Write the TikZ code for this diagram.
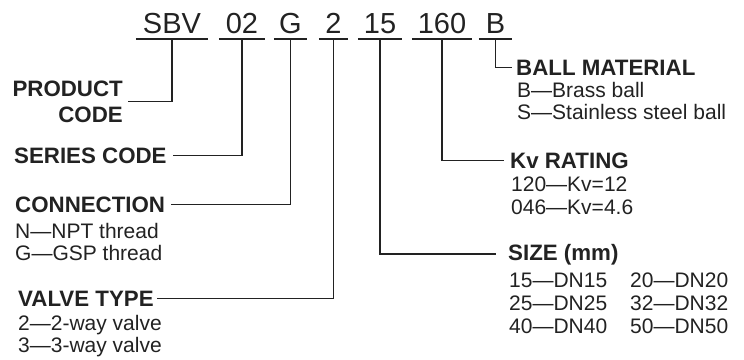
\documentclass[tikz,border=0pt]{standalone}
\usepackage{fontspec}
\setmainfont{Liberation Sans}
\usepackage{xcolor}
\usetikzlibrary{positioning}
\definecolor{ink}{HTML}{222222}
\tikzset{
  codetext/.style={inner xsep=0pt, inner ysep=6pt, text depth=0pt, anchor=base,
                   font=\fontsize{29}{29}\selectfont, text=ink},
  headtext/.style={inner sep=0pt, font=\fontsize{22.3}{26}\selectfont\bfseries, text=ink},
  itemtext/.style={inner sep=0pt, anchor=base west, font=\fontsize{21}{22}\selectfont, text=ink},
  leader/.style={draw=ink, line width=1.5pt},
}

\begin{document}
\begin{tikzpicture}[x=1pt, y=-1pt]
    \useasboundingbox (0,0) rectangle (744,359);
    % code row
    \node[codetext, minimum width=72] (sbv)  at (172,33)   {SBV};
    \node[codetext, minimum width=46] (ser)  at (242,33)   {02};
    \node[codetext, minimum width=33] (con)  at (290.5,33) {G};
    \node[codetext, minimum width=29] (typ)  at (333.5,33) {2};
    \node[codetext, minimum width=44] (siz)  at (380,33)   {15};
    \node[codetext, minimum width=60] (kvr)  at (442,33)   {160};
    \node[codetext, minimum width=33] (mat)  at (495.5,33) {B};
    \foreach \n in {sbv,ser,con,typ,siz,kvr,mat}
        \draw[leader] (\n.south west) -- (\n.south east);

    % left labels
    \node[headtext, align=right, anchor=east] (product) at (123,101.5) {PRODUCT\\CODE};
    \node[headtext, anchor=base west] (series) at (14,163) {SERIES CODE};
    \node[headtext, anchor=base west] (connection) at (15,212) {CONNECTION};
    \node[itemtext] (npt) at (15,238) {N—NPT thread};
    \node[itemtext] (gsp) at (15,260) {G—GSP thread};
    \node[headtext, anchor=base west] (valve) at (18,306) {VALVE TYPE};
    \node[itemtext] (way2) at (18,330) {2—2-way valve};
    \node[itemtext] (way3) at (18,352) {3—3-way valve};

    % right labels
    \node[headtext, anchor=base west] (ball) at (516,75) {BALL MATERIAL};
    \node[itemtext] (brass) at (517,97)  {B—Brass ball};
    \node[itemtext] (steel) at (517,119) {S—Stainless steel ball};
    \node[headtext, anchor=base west] (rating) at (510,168) {Kv RATING};
    \node[itemtext] (kv12) at (511,191) {120—Kv=12};
    \node[itemtext] (kv46) at (511,214) {046—Kv=4.6};
    \node[headtext, anchor=base west] (size) at (508,260) {SIZE (mm)};
    \node[itemtext] (dn15) at (509,287) {15—DN15};
    \node[itemtext] (dn25) at (509,310) {25—DN25};
    \node[itemtext] (dn40) at (509,333) {40—DN40};
    \node[itemtext] (dn20) at (630,287) {20—DN20};
    \node[itemtext] (dn32) at (630,310) {32—DN32};
    \node[itemtext] (dn50) at (630,333) {50—DN50};

    % leaders
    \draw[leader] (sbv.south) |- ([xshift=5pt]product.east);
    \draw[leader] (ser.south) |- ([xshift=6pt]series.east);
    \draw[leader] (con.south) |- ([xshift=6pt]connection.east);
    \draw[leader] (typ.south) |- ([xshift=3pt]valve.east);
    \draw[leader] (mat.south) |- ([xshift=-4pt]ball.west);
    \draw[leader] (kvr.south) |- ([xshift=-6pt]rating.west);
    \draw[leader] (siz.south) |- ([xshift=-12pt]size.west);
\end{tikzpicture}
\end{document}
